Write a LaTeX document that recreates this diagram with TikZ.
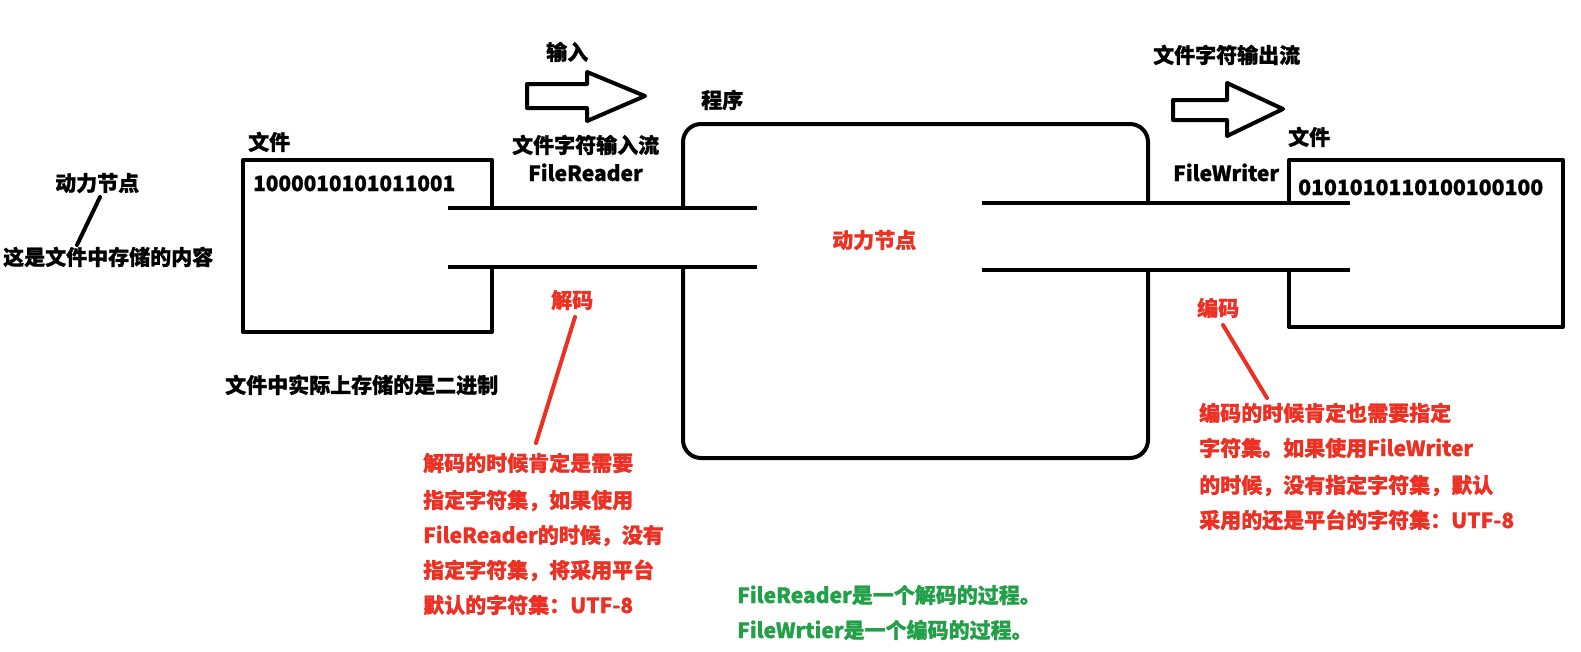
\documentclass[tikz,border=0pt]{standalone}
\usepackage{fontspec}
\setmainfont{Noto Sans CJK SC}[BoldFeatures={FakeBold=1}]
\definecolor{myred}{RGB}{236,48,36}
\definecolor{mygreen}{RGB}{34,160,72}
\begin{document}
\begin{tikzpicture}[x=1pt,y=-1pt,
  every node/.style={inner sep=0pt,font=\bfseries\fontsize{21}{25}\selectfont},
  lbl/.style={anchor=base west,text=black},
  rlbl/.style={anchor=base west,text=myred},
  glbl/.style={anchor=base west,text=mygreen},
  outline/.style={draw=black,line width=4pt,line join=round},
  pipe/.style={draw=black,line width=3.5pt},
  blackptr/.style={draw=black,line width=4pt,line cap=round},
  redptr/.style={draw=myred,line width=4pt,line cap=round}]
\useasboundingbox (0,0) rectangle (1581,651);
\fill[white] (0,0) rectangle (1581,651);

% left file box
\draw[outline] (492,208) -- (492,160) -- (243,160) -- (243,332) -- (492,332) -- (492,267);
% left pipes
\draw[pipe] (448,208) -- (757,208);
\draw[pipe] (448,267) -- (757,267);
% program box
\draw[outline,rounded corners=18pt] (683,208) -- (683,124) -- (1148,124) -- (1148,203);
\draw[outline,rounded corners=18pt] (1148,270) -- (1148,458) -- (683,458) -- (683,267);
% right pipes
\draw[pipe] (982,203) -- (1350,203);
\draw[pipe] (982,270) -- (1350,270);
% right file box
\draw[outline] (1289,203) -- (1289,160) -- (1563,160) -- (1563,327) -- (1289,327) -- (1289,270);

% block arrows
\draw[outline] (527,84) -- (587,84) -- (587,72) -- (645,96) -- (587,121) -- (587,108) -- (527,108) -- cycle;
\draw[outline] (1173,100) -- (1227,100) -- (1227,83) -- (1283,109) -- (1227,136) -- (1227,120) -- (1173,120) -- cycle;

% black labels
\node[lbl] (input) at (546,60) {输入};
\node[lbl] (prog) at (701,108) {程序};
\node[lbl] (instream) at (512,153) {文件字符输入流};
\node[lbl] (freader) at (528,181) {FileReader};
\node[lbl] (lfile) at (248,150) {文件};
\node[lbl] (lbits) at (253,191) {\resizebox{202pt}{\height}{1000010101011001}};
\node[lbl] (dlleft) at (55,191) {动力节点};
\node[lbl] (content) at (3,265) {这是文件中存储的内容};
\node[lbl] (binary) at (225,393) {文件中实际上存储的是二进制};
\node[lbl] (outstream) at (1153,63) {文件字符输出流};
\node[lbl] (fwriter) at (1173,181) {FileWriter};
\node[lbl] (rfile) at (1288,145) {文件};
\node[lbl] (rbits) at (1298,195) {\resizebox{245pt}{\height}{0101010110100100100}};

% red labels
\node[rlbl] (center) at (832,248) {动力节点};
\node[rlbl] (decode) at (551,308) {解码};
\node[rlbl] (dn1) at (423,471) {解码的时候肯定是需要};
\node[rlbl] (dn2) at (423,508) {指定字符集，如果使用};
\node[rlbl] (dn3) at (423,543) {FileReader的时候，没有};
\node[rlbl] (dn4) at (423,578) {指定字符集，将采用平台};
\node[rlbl] (dn5) at (423,613) {默认的字符集：UTF-8};
\node[rlbl] (encode) at (1197,316) {编码};
\node[rlbl] (en1) at (1199,421) {编码的时候肯定也需要指定};
\node[rlbl] (en2) at (1199,456) {字符集。如果使用FileWriter};
\node[rlbl] (en3) at (1199,493) {的时候，没有指定字符集，默认};
\node[rlbl] (en4) at (1199,528) {采用的还是平台的字符集：UTF-8};

% green labels
\node[glbl] (g1) at (737,603) {FileReader是一个解码的过程。};
\node[glbl] (g2) at (737,638) {FileWrtier是一个编码的过程。};

% pointer lines
\coordinate (p1a) at (100,197);
\coordinate (p1b) at (77,245);
\coordinate (p2a) at (575,317);
\coordinate (p2b) at (536,443);
\coordinate (p3a) at (1223,325);
\coordinate (p3b) at (1267,398);
\draw[blackptr] (p1a) -- (p1b);
\draw[redptr] (p2a) -- (p2b);
\draw[redptr] (p3a) -- (p3b);
\end{tikzpicture}
\end{document}
